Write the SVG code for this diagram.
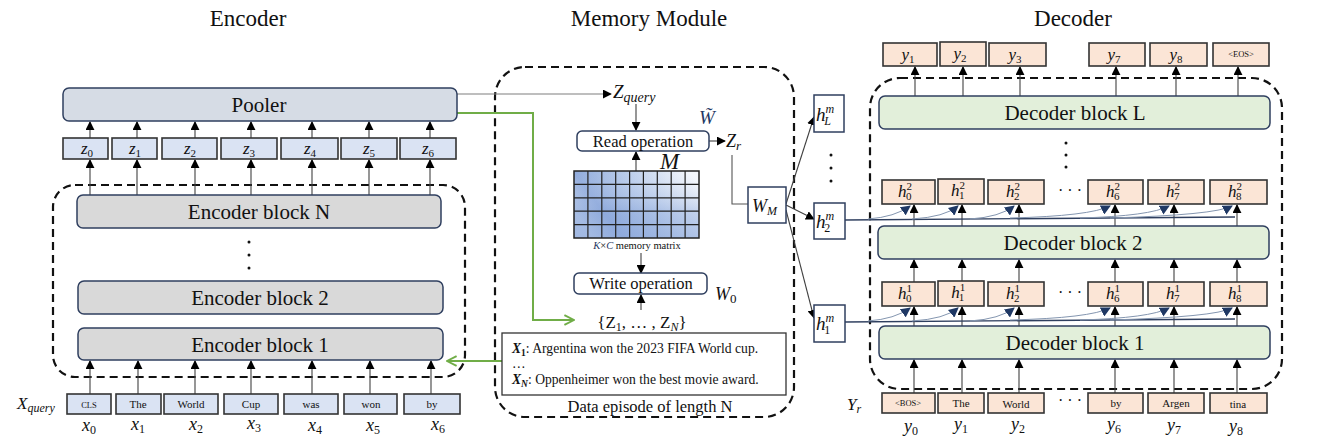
<svg xmlns="http://www.w3.org/2000/svg" width="1318" height="438" viewBox="0 0 1318 438">
<style>
text{font-family:"Liberation Serif","Times New Roman",serif;fill:#111}
.title{font-size:23px;text-anchor:middle}
.blk{font-size:21px;text-anchor:middle}
.op{font-size:16.5px;text-anchor:middle}
.tok{font-size:11px;text-anchor:middle}
.sm{font-size:8.5px;text-anchor:middle}
.mi{font-style:italic}
.up{font-style:normal}
.zl{font-size:17px;font-style:italic;text-anchor:middle}
.xl{font-size:18px;font-style:italic;text-anchor:middle}
.enc{fill:#d9d9d9;stroke:#2f3f5f;stroke-width:1.5}
.pool{fill:#d6dce5;stroke:#2f3f5f;stroke-width:1.5}
.zb{fill:#dae3f3;stroke:#333;stroke-width:1.6}
.dec{fill:#e2efda;stroke:#2f3f5f;stroke-width:1.5}
.pb{fill:#fbe5d6;stroke:#333;stroke-width:1.6}
.wb{fill:#fff;stroke:#2f3f5f;stroke-width:1.5}
.dash{fill:none;stroke:#111;stroke-width:2.2;stroke-dasharray:8 5}
.ar{fill:none;stroke:#404040;stroke-width:1.1;marker-end:url(#ah)}
.ln{fill:none;stroke:#555;stroke-width:1.1}
.gr{fill:none;stroke:#70ad47;stroke-width:2;marker-end:url(#gh)}
.cv{fill:none;stroke:#8496b0;stroke-width:1;marker-end:url(#nh)}
.hl{fill:none;stroke:#2f3f5f;stroke-width:1.4}
</style>
<defs>
<marker id="ah" viewBox="0 0 10 10" refX="9" refY="5" markerWidth="9" markerHeight="9" markerUnits="userSpaceOnUse" orient="auto"><path d="M0,0 L10,5 L0,10 z" fill="#000"/></marker>
<marker id="nh" viewBox="0 0 10 10" refX="9" refY="5" markerWidth="10" markerHeight="10" markerUnits="userSpaceOnUse" orient="auto"><path d="M0,0 L10,5 L0,10 z" fill="#1f3864"/></marker>
<marker id="gh" viewBox="0 0 10 10" refX="9" refY="5" markerWidth="12" markerHeight="12" markerUnits="userSpaceOnUse" orient="auto"><path d="M1,1 L9,5 L1,9" fill="none" stroke="#70ad47" stroke-width="1.6"/></marker>
<linearGradient id="mg" x1="0" y1="0.6" x2="1" y2="0.2">
<stop offset="0" stop-color="#b4c7e7"/><stop offset="0.2" stop-color="#8faadc"/><stop offset="0.55" stop-color="#b8cbea"/><stop offset="1" stop-color="#f4f7fc"/>
</linearGradient>
<linearGradient id="mg2" x1="0" y1="0" x2="0" y2="1">
<stop offset="0" stop-color="#fff" stop-opacity="0"/><stop offset="0.6" stop-color="#8faadc" stop-opacity="0.35"/><stop offset="1" stop-color="#8faadc" stop-opacity="0.5"/>
</linearGradient>
</defs>

<!-- titles -->
<text class="title" x="248" y="26">Encoder</text>
<text class="title" x="649" y="26">Memory Module</text>
<text class="title" x="1073" y="26">Decoder</text>

<!-- dashed containers -->
<rect class="dash" x="53" y="185" width="412" height="192" rx="22"/>
<rect class="dash" x="495" y="67" width="299" height="350" rx="30"/>
<rect class="dash" x="870" y="78" width="412" height="311" rx="30"/>

<!-- connectors -->
<g id="connectors">
<path class="ar" d="M90,394V361"/><path class="ar" d="M138,394V361"/><path class="ar" d="M195,394V361"/><path class="ar" d="M251,394V361"/><path class="ar" d="M312,394V361"/><path class="ar" d="M370,394V361"/><path class="ar" d="M431,394V361"/>
<path class="ar" d="M90,195V160"/><path class="ar" d="M137,195V160"/><path class="ar" d="M195,195V160"/><path class="ar" d="M251,195V160"/><path class="ar" d="M312,195V160"/><path class="ar" d="M369,195V160"/><path class="ar" d="M430,195V160"/>
<path class="ar" d="M90,138V122"/><path class="ar" d="M137,138V122"/><path class="ar" d="M195,138V122"/><path class="ar" d="M251,138V122"/><path class="ar" d="M312,138V122"/><path class="ar" d="M369,138V122"/><path class="ar" d="M430,138V122"/>
<path class="ar" d="M457,94H611" style="stroke:#7f7f7f"/>
<path class="gr" d="M457,113H533V320H574"/>
<path class="gr" d="M508,361H447"/>
<path class="ar" d="M636,104V130"/>
<path class="ar" d="M636,171V152"/>
<path class="ar" d="M709,141H725"/>
<path class="ar" d="M641,253V273"/>
<path class="ar" d="M641,310V295"/>
<path class="ln" d="M732,155V204H748"/>
<path class="ar" d="M786,204L814,117"/>
<path class="ar" d="M786,205L814,219"/>
<path class="ar" d="M786,210L814,318"/>
<path class="ar" d="M914,393V360"/><path class="ar" d="M962,393V360"/><path class="ar" d="M1019,393V360"/><path class="ar" d="M1115,393V360"/><path class="ar" d="M1174,393V360"/><path class="ar" d="M1237,393V360"/>
<path class="ar" d="M914,326V307"/><path class="ar" d="M962,326V307"/><path class="ar" d="M1019,326V307"/><path class="ar" d="M1115,326V307"/><path class="ar" d="M1174,326V307"/><path class="ar" d="M1237,326V307"/>
<path class="ar" d="M914,282V260"/><path class="ar" d="M962,282V260"/><path class="ar" d="M1019,282V260"/><path class="ar" d="M1115,282V260"/><path class="ar" d="M1174,282V260"/><path class="ar" d="M1237,282V260"/>
<path class="ar" d="M914,226V205"/><path class="ar" d="M962,226V205"/><path class="ar" d="M1019,226V205"/><path class="ar" d="M1115,226V205"/><path class="ar" d="M1174,226V205"/><path class="ar" d="M1237,226V205"/>
<path class="ar" d="M915,96V67"/><path class="ar" d="M963,96V67"/><path class="ar" d="M1020,96V67"/><path class="ar" d="M1116,96V67"/><path class="ar" d="M1176,96V67"/><path class="ar" d="M1238,96V67"/>
<path class="hl" d="M845,220L1235,217"/>
<path class="cv" d="M868,219Q895,217 910,206"/>
<path class="cv" d="M912,219Q945,217 958,206"/>
<path class="cv" d="M970,219Q1000,217 1014,206"/>
<path class="cv" d="M1010,218Q1090,216 1110,206"/>
<path class="cv" d="M1080,218Q1150,216 1169,206"/>
<path class="cv" d="M1110,218Q1215,215 1232,206"/>
<path class="hl" d="M845,322L1235,319"/>
<path class="cv" d="M868,321Q895,319 910,308"/>
<path class="cv" d="M912,321Q945,319 958,308"/>
<path class="cv" d="M970,321Q1000,319 1014,308"/>
<path class="cv" d="M1010,320Q1090,318 1110,308"/>
<path class="cv" d="M1080,320Q1150,318 1169,308"/>
<path class="cv" d="M1110,320Q1215,317 1232,308"/>
</g>

<!-- Encoder -->
<g id="pooler"><rect class="pool" x="63" y="88" width="394" height="33" rx="6"/><text class="blk" x="259" y="112">Pooler</text></g>
<g id="zvecs">
<rect class="zb" x="63" y="138" width="45" height="21"/><text class="zl" x="87" y="154">z<tspan class="up" font-size="11" dy="3">0</tspan></text>
<rect class="zb" x="112" y="138" width="45" height="21"/><text class="zl" x="135" y="154">z<tspan class="up" font-size="11" dy="3">1</tspan></text>
<rect class="zb" x="162" y="138" width="55" height="21"/><text class="zl" x="190" y="154">z<tspan class="up" font-size="11" dy="3">2</tspan></text>
<rect class="zb" x="221" y="138" width="56" height="21"/><text class="zl" x="249" y="154">z<tspan class="up" font-size="11" dy="3">3</tspan></text>
<rect class="zb" x="281" y="138" width="57" height="21"/><text class="zl" x="310" y="154">z<tspan class="up" font-size="11" dy="3">4</tspan></text>
<rect class="zb" x="341" y="138" width="56" height="21"/><text class="zl" x="369" y="154">z<tspan class="up" font-size="11" dy="3">5</tspan></text>
<rect class="zb" x="400" y="138" width="56" height="21"/><text class="zl" x="428" y="154">z<tspan class="up" font-size="11" dy="3">6</tspan></text>
</g>
<g id="encN"><rect class="enc" x="77" y="195" width="364" height="33" rx="6"/><text class="blk" x="259" y="219">Encoder block N</text></g>
<g id="encdots"><circle cx="249" cy="242" r="1.5" fill="#111"/><circle cx="249" cy="255" r="1.5" fill="#111"/><circle cx="249" cy="268" r="1.5" fill="#111"/></g>
<g id="enc2"><rect class="enc" x="78" y="281" width="365" height="33" rx="6"/><text class="blk" x="260" y="305">Encoder block 2</text></g>
<g id="enc1"><rect class="enc" x="78" y="328" width="365" height="32" rx="6"/><text class="blk" x="260" y="352">Encoder block 1</text></g>
<g id="xtokens">
<text x="17" y="409" font-size="17" class="mi">X<tspan font-size="12" dy="3">query</tspan></text>
<rect class="zb" x="67" y="394" width="44" height="20"/><text class="sm" x="89" y="408">CLS</text>
<rect class="zb" x="116" y="394" width="45" height="20"/><text class="tok" x="138" y="408">The</text>
<rect class="zb" x="164" y="394" width="54" height="20"/><text class="tok" x="191" y="408">World</text>
<rect class="zb" x="224" y="394" width="54" height="20"/><text class="tok" x="251" y="408">Cup</text>
<rect class="zb" x="284" y="394" width="54" height="20"/><text class="tok" x="311" y="408">was</text>
<rect class="zb" x="344" y="394" width="53" height="20"/><text class="tok" x="371" y="408">won</text>
<rect class="zb" x="404" y="394" width="56" height="20"/><text class="tok" x="432" y="408">by</text>
<text class="xl" x="89" y="431">x<tspan class="up" font-size="12" dy="3">0</tspan></text>
<text class="xl" x="138" y="430">x<tspan class="up" font-size="12" dy="3">1</tspan></text>
<text class="xl" x="196" y="430">x<tspan class="up" font-size="12" dy="3">2</tspan></text>
<text class="xl" x="254" y="429">x<tspan class="up" font-size="12" dy="3">3</tspan></text>
<text class="xl" x="315" y="431">x<tspan class="up" font-size="12" dy="3">4</tspan></text>
<text class="xl" x="373" y="431">x<tspan class="up" font-size="12" dy="3">5</tspan></text>
<text class="xl" x="438" y="430">x<tspan class="up" font-size="12" dy="3">6</tspan></text>
</g>

<!-- Memory module -->
<g id="zquery"><text x="613" y="98" font-size="19" class="mi">Z<tspan font-size="14" dy="4">query</tspan></text></g>
<g id="wtilde"><text x="699" y="124" font-size="19" class="mi" style="fill:#1f3864">W̃</text></g>
<g id="read"><rect class="wb" x="577" y="131" width="132" height="20" rx="5"/><text class="op" x="643" y="147">Read operation</text></g>
<g id="zr"><text x="726" y="147" font-size="18" class="mi">Z<tspan font-size="13" dy="3">r</tspan></text></g>
<g id="matrix">
<text x="660" y="169" font-size="23" font-style="italic">M</text>
<rect x="574" y="171" width="125" height="67" fill="url(#mg)"/>
<rect x="574" y="171" width="125" height="67" fill="url(#mg2)"/>
<path d="M587.9,171V238M601.8,171V238M615.7,171V238M629.6,171V238M643.4,171V238M657.3,171V238M671.2,171V238M685.1,171V238M574,184.4H699M574,197.8H699M574,211.2H699M574,224.6H699" stroke="#222" stroke-width="1.2" fill="none"/>
<rect x="574" y="171" width="125" height="67" fill="none" stroke="#222" stroke-width="1.5"/>
<text x="637" y="249" font-size="10.5" text-anchor="middle"><tspan font-style="italic" style="fill:#1f3864">K</tspan>×<tspan font-style="italic" style="fill:#1f3864">C</tspan> memory matrix</text>
</g>
<g id="write"><rect class="wb" x="574" y="273" width="133" height="21" rx="5"/><text class="op" x="641" y="289">Write operation</text></g>
<g id="w0"><text x="715" y="300" font-size="18" class="mi">W<tspan class="up" font-size="13" dy="3">0</tspan></text></g>
<g id="zset"><text x="642" y="328" font-size="17" text-anchor="middle">{Z<tspan font-size="12" dy="3">1</tspan><tspan dy="-3">, … , Z</tspan><tspan font-size="12" dy="3" font-style="italic">N</tspan><tspan dy="-3">}</tspan></text></g>
<g id="episode">
<rect x="502" y="333" width="284" height="62" fill="#fff" stroke="#333" stroke-width="1.3"/>
<text x="512" y="353" font-size="13.6"><tspan font-weight="bold" font-style="italic">X</tspan><tspan font-size="9.5" dy="3" font-weight="bold">1</tspan><tspan dy="-3">: Argentina won the 2023 FIFA World cup.</tspan></text>
<text x="512" y="368" font-size="13.6">…</text>
<text x="512" y="384" font-size="13.6"><tspan font-weight="bold" font-style="italic">X</tspan><tspan font-size="9.5" dy="3" font-weight="bold" font-style="italic">N</tspan><tspan dy="-3">: Oppenheimer won the best movie award.</tspan></text>
<text class="op" x="650" y="412">Data episode of length N</text>
</g>
<g id="wm"><rect class="wb" x="748" y="187" width="38" height="36"/><text x="752" y="212" font-size="18" class="mi">W<tspan font-size="12" dy="3">M</tspan></text></g>
<g id="hLm"><rect class="wb" x="814" y="95" width="30" height="37"/><text x="816" y="121" font-size="19" class="mi">h<tspan font-size="12" dy="-8">m</tspan><tspan font-size="12" dx="-10" dy="12">L</tspan></text></g>
<g id="hmdots"><circle cx="831" cy="155" r="1.5" fill="#111"/><circle cx="831" cy="168" r="1.5" fill="#111"/><circle cx="831" cy="181" r="1.5" fill="#111"/></g>
<g id="h2m"><rect class="wb" x="814" y="203" width="31" height="36"/><text x="816" y="228" font-size="19" class="mi">h<tspan font-size="12" dy="-8">m</tspan><tspan class="up" font-size="12" dx="-10" dy="12">2</tspan></text></g>
<g id="h1m"><rect class="wb" x="814" y="305" width="31" height="37"/><text x="816" y="330" font-size="19" class="mi">h<tspan font-size="12" dy="-8">m</tspan><tspan class="up" font-size="12" dx="-10" dy="12">1</tspan></text></g>

<!-- Decoder -->
<g id="youts">
<rect class="pb" x="883" y="43" width="54" height="23"/><text class="zl" x="908" y="60">y<tspan class="up" font-size="11" dy="3">1</tspan></text>
<rect class="pb" x="940" y="42" width="46" height="24"/><text class="zl" x="960" y="59">y<tspan class="up" font-size="11" dy="3">2</tspan></text>
<rect class="pb" x="989" y="43" width="57" height="23"/><text class="zl" x="1015" y="60">y<tspan class="up" font-size="11" dy="3">3</tspan></text>
<rect class="pb" x="1089" y="43" width="56" height="23"/><text class="zl" x="1114" y="60">y<tspan class="up" font-size="11" dy="3">7</tspan></text>
<rect class="pb" x="1150" y="43" width="57" height="23"/><text class="zl" x="1176" y="60">y<tspan class="up" font-size="11" dy="3">8</tspan></text>
<rect class="pb" x="1213" y="43" width="56" height="23"/><text class="sm" x="1241" y="57">&lt;EOS&gt;</text>
</g>
<g id="decL"><rect class="dec" x="879" y="96" width="391" height="33" rx="6"/><text class="blk" x="1075" y="120">Decoder block L</text></g>
<g id="decdots"><circle cx="1066" cy="143" r="1.5" fill="#111"/><circle cx="1066" cy="155" r="1.5" fill="#111"/><circle cx="1066" cy="167" r="1.5" fill="#111"/></g>
<g id="h2row">
<rect class="pb" x="882" y="180" width="53" height="24"/><text class="zl" x="905" y="197">h<tspan class="up" font-size="11" dy="-7">2</tspan><tspan class="up" font-size="11" dx="-6" dy="10">0</tspan></text>
<rect class="pb" x="938" y="179" width="46" height="25"/><text class="zl" x="958" y="196">h<tspan class="up" font-size="11" dy="-7">2</tspan><tspan class="up" font-size="11" dx="-6" dy="10">1</tspan></text>
<rect class="pb" x="988" y="180" width="56" height="24"/><text class="zl" x="1013" y="197">h<tspan class="up" font-size="11" dy="-7">2</tspan><tspan class="up" font-size="11" dx="-6" dy="10">2</tspan></text>
<text x="1070" y="196" font-size="16" text-anchor="middle">· · ·</text>
<rect class="pb" x="1088" y="180" width="55" height="24"/><text class="zl" x="1113" y="197">h<tspan class="up" font-size="11" dy="-7">2</tspan><tspan class="up" font-size="11" dx="-6" dy="10">6</tspan></text>
<rect class="pb" x="1148" y="180" width="56" height="24"/><text class="zl" x="1173" y="197">h<tspan class="up" font-size="11" dy="-7">2</tspan><tspan class="up" font-size="11" dx="-6" dy="10">7</tspan></text>
<rect class="pb" x="1210" y="180" width="57" height="24"/><text class="zl" x="1235" y="197">h<tspan class="up" font-size="11" dy="-7">2</tspan><tspan class="up" font-size="11" dx="-6" dy="10">8</tspan></text>
</g>
<g id="dec2"><rect class="dec" x="878" y="226" width="391" height="33" rx="6"/><text class="blk" x="1073" y="250">Decoder block 2</text></g>
<g id="h1row">
<rect class="pb" x="882" y="282" width="53" height="24"/><text class="zl" x="905" y="299">h<tspan class="up" font-size="11" dy="-7">1</tspan><tspan class="up" font-size="11" dx="-6" dy="10">0</tspan></text>
<rect class="pb" x="938" y="281" width="46" height="25"/><text class="zl" x="958" y="298">h<tspan class="up" font-size="11" dy="-7">1</tspan><tspan class="up" font-size="11" dx="-6" dy="10">1</tspan></text>
<rect class="pb" x="988" y="282" width="56" height="24"/><text class="zl" x="1013" y="299">h<tspan class="up" font-size="11" dy="-7">1</tspan><tspan class="up" font-size="11" dx="-6" dy="10">2</tspan></text>
<text x="1070" y="298" font-size="16" text-anchor="middle">· · ·</text>
<rect class="pb" x="1088" y="282" width="55" height="24"/><text class="zl" x="1113" y="299">h<tspan class="up" font-size="11" dy="-7">1</tspan><tspan class="up" font-size="11" dx="-6" dy="10">6</tspan></text>
<rect class="pb" x="1148" y="282" width="56" height="24"/><text class="zl" x="1173" y="299">h<tspan class="up" font-size="11" dy="-7">1</tspan><tspan class="up" font-size="11" dx="-6" dy="10">7</tspan></text>
<rect class="pb" x="1210" y="282" width="57" height="24"/><text class="zl" x="1235" y="299">h<tspan class="up" font-size="11" dy="-7">1</tspan><tspan class="up" font-size="11" dx="-6" dy="10">8</tspan></text>
</g>
<g id="dec1"><rect class="dec" x="879" y="326" width="391" height="33" rx="6"/><text class="blk" x="1075" y="350">Decoder block 1</text></g>
<g id="ytokens">
<text x="847" y="410" font-size="17" class="mi">Y<tspan font-size="12" dy="3">r</tspan></text>
<rect class="pb" x="882" y="393" width="53" height="20"/><text class="sm" x="908" y="406">&lt;BOS&gt;</text>
<rect class="pb" x="938" y="393" width="46" height="20"/><text class="tok" x="961" y="407">The</text>
<rect class="pb" x="988" y="393" width="56" height="20"/><text class="tok" x="1016" y="408">World</text>
<text x="1070" y="406" font-size="16" text-anchor="middle">· · ·</text>
<rect class="pb" x="1088" y="393" width="55" height="20"/><text class="tok" x="1116" y="407">by</text>
<rect class="pb" x="1148" y="393" width="56" height="20"/><text class="tok" x="1176" y="407">Argen</text>
<rect class="pb" x="1210" y="393" width="57" height="20"/><text class="tok" x="1238" y="408">tina</text>
<text class="xl" x="911" y="432">y<tspan class="up" font-size="12" dy="3">0</tspan></text>
<text class="xl" x="961" y="430">y<tspan class="up" font-size="12" dy="3">1</tspan></text>
<text class="xl" x="1018" y="430">y<tspan class="up" font-size="12" dy="3">2</tspan></text>
<text class="xl" x="1114" y="430">y<tspan class="up" font-size="12" dy="3">6</tspan></text>
<text class="xl" x="1174" y="431">y<tspan class="up" font-size="12" dy="3">7</tspan></text>
<text class="xl" x="1236" y="432">y<tspan class="up" font-size="12" dy="3">8</tspan></text>
</g>
</svg>
